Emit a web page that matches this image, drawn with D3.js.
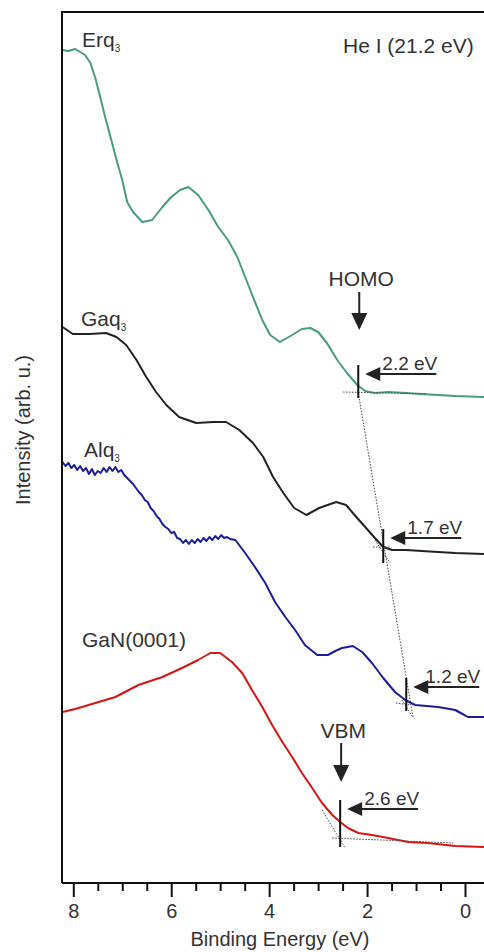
<!DOCTYPE html>
<html>
<head>
<meta charset="utf-8">
<script src="https://cdn.jsdelivr.net/npm/d3@7"></script>
<style>
	body { margin: 0; background: #fff; }
	svg { display: block; }
	text { font-family: "Liberation Sans", Arial, sans-serif; fill: #333; }
</style>
</head>
<body>
<svg id="chart"></svg>
<script>
// binding energy (eV) and intensity (arb. u.)
var erqE = [8.22, 8.10, 7.96, 7.86, 7.76, 7.65, 7.55, 7.45, 7.35, 7.24, 7.10, 7.00, 6.90, 6.78, 6.59, 6.39, 6.18, 6.02, 5.82, 5.65, 5.45, 5.24, 5.04, 4.84, 4.65, 4.49, 4.33, 4.14, 3.98, 3.78, 3.53, 3.33, 3.16, 3.00, 2.82, 2.61, 2.41, 2.20, 2.04, 1.84, 1.57, 1.20, 0.88, 0.55, 0.20, -0.39];
var erqI = [83.4, 83.3, 83.5, 83.2, 82.9, 82.1, 80.6, 78.7, 76.7, 74.7, 72.1, 70.4, 68.2, 67.2, 66.2, 66.4, 67.7, 68.6, 69.4, 69.7, 68.9, 67.4, 65.7, 64.4, 62.7, 60.7, 58.7, 56.4, 54.9, 54.2, 54.9, 55.5, 55.6, 55.2, 54.1, 52.4, 51.1, 49.9, 49.3, 49.1, 49.2, 49.1, 49.0, 48.9, 48.8, 48.7];

var gaqE = [8.22, 8.01, 7.67, 7.33, 7.12, 6.92, 6.71, 6.51, 6.31, 6.10, 5.84, 5.49, 5.14, 4.88, 4.61, 4.33, 4.12, 3.92, 3.71, 3.49, 3.24, 2.98, 2.63, 2.43, 2.22, 2.02, 1.84, 1.67, 1.49, 1.20, 0.88, 0.55, 0.20, -0.39];
var gaqI = [55.7, 55.0, 55.0, 55.1, 54.7, 53.9, 52.4, 50.7, 49.2, 47.9, 46.7, 46.1, 46.2, 46.2, 45.4, 44.1, 42.7, 40.7, 39.1, 37.6, 36.9, 37.6, 38.2, 37.9, 36.7, 35.6, 34.6, 33.7, 33.4, 33.4, 33.3, 33.2, 33.1, 33.0];

var alqE = [8.22, 8.16, 8.10, 8.04, 7.98, 7.92, 7.86, 7.80, 7.74, 7.68, 7.62, 7.56, 7.50, 7.44, 7.38, 7.32, 7.26, 7.20, 7.14, 7.08, 7.02, 6.96, 6.90, 6.84, 6.78, 6.72, 6.66, 6.60, 6.54, 6.48, 6.42, 6.36, 6.30, 6.24, 6.18, 6.12, 6.06, 6.00, 5.94, 5.88, 5.82, 5.76, 5.70, 5.64, 5.58, 5.52, 5.46, 5.40, 5.34, 5.28, 5.22, 5.16, 5.10, 5.04, 4.98, 4.92, 4.86, 4.80, 4.69, 4.49, 4.29, 4.08, 3.88, 3.67, 3.47, 3.27, 3.02, 2.80, 2.65, 2.51, 2.29, 2.10, 1.90, 1.67, 1.43, 1.22, 1.02, 0.55, 0.20, 0.05, -0.06, -0.39];
var alqI = [42.2, 41.8, 42.1, 41.6, 41.9, 41.4, 41.8, 41.3, 41.6, 41.0, 41.5, 40.9, 41.3, 41.1, 41.6, 41.2, 41.7, 41.3, 41.7, 41.2, 41.4, 40.9, 40.6, 40.3, 40.0, 39.6, 39.2, 38.9, 38.4, 38.2, 37.6, 37.3, 36.8, 36.5, 36.0, 35.7, 35.5, 35.1, 35.2, 34.6, 34.5, 34.1, 34.4, 34.0, 34.4, 34.1, 34.5, 34.2, 34.6, 34.3, 34.7, 34.4, 34.8, 34.5, 34.9, 34.6, 34.7, 34.5, 34.4, 33.1, 31.7, 30.1, 28.2, 26.7, 25.4, 23.9, 22.9, 22.9, 23.3, 23.6, 23.8, 23.2, 22.1, 20.6, 19.2, 18.4, 17.9, 17.7, 17.4, 17.0, 16.7, 16.7];

var ganE = [8.22, 7.96, 7.55, 7.14, 6.67, 6.18, 5.78, 5.45, 5.20, 5.00, 4.76, 4.55, 4.35, 4.14, 3.94, 3.73, 3.53, 3.33, 3.12, 2.92, 2.71, 2.55, 2.39, 2.18, 1.90, 1.57, 1.16, 0.76, 0.20, -0.39];
var ganI = [17.2, 17.5, 18.1, 18.7, 19.9, 20.7, 21.6, 22.4, 23.1, 23.1, 22.2, 21.1, 19.4, 17.7, 15.9, 14.2, 12.7, 11.1, 9.6, 8.1, 6.9, 6.2, 5.6, 5.1, 4.9, 4.6, 4.2, 4.1, 3.8, 3.7];

var seriesNames = ["Erq", "Gaq", "Alq", "GaN(0001)"];
var seriesColors = ["#4a9985", "#222222", "#1c1c96", "#d81414"];

// onset (HOMO / VBM) values
var onsetE = [2.18, 1.67, 1.20, 2.55];
var onsetLabels = ["2.2 eV", "1.7 eV", "1.2 eV", "2.6 eV"];
var onsetTop = [51.9, 35.5, 20.6, 8.4];
var onsetBottom = [48.6, 32.1, 17.3, 3.7];

var majorTicks = [8, 6, 4, 2, 0];
var minorTicks = [7.5, 7, 6.5, 5.5, 5, 4.5, 3.5, 3, 2.5, 1.5, 1, 0.5];

var width = 484, height = 952;
var margin = {top: 12, left: 62, bottom: 69};
var innerW = 460, innerH = height - margin.top - margin.bottom;

var svg = d3.select("#chart").attr("width", width).attr("height", height);
var g = svg.append("g").attr("transform", "translate(" + margin.left + "," + margin.top + ")");

var x = d3.scaleLinear().domain([8, 0]).range([11.3, 403]);
var y = d3.scaleLinear().domain([0, 87.2]).range([innerH + 1, 0]);

var line = d3.line()
	.x(function(d) { return x(d[0]); })
	.y(function(d) { return y(d[1]); });

var series = [[erqE, erqI], [gaqE, gaqI], [alqE, alqI], [ganE, ganI]];
series.forEach(function(s, i) {
	g.append("path")
		.datum(d3.zip(s[0], s[1]))
		.attr("fill", "none")
		.attr("stroke", seriesColors[i])
		.attr("stroke-width", 2)
		.attr("stroke-linejoin", "round")
		.attr("d", line);
});

// frame: left and top edges, bottom axis line
g.append("path")
	.attr("d", "M0," + innerH + "V0H" + innerW + "M0," + innerH + "H" + innerW)
	.attr("fill", "none")
	.attr("stroke", "#111")
	.attr("stroke-width", 2);

var axisMajor = g.append("g").attr("transform", "translate(0," + innerH + ")")
	.call(d3.axisBottom(x).tickValues(majorTicks).tickSize(14).tickFormat(d3.format("d")));
var axisMinor = g.append("g").attr("transform", "translate(0," + innerH + ")")
	.call(d3.axisBottom(x).tickValues(minorTicks).tickSize(8).tickFormat(""));
[axisMajor, axisMinor].forEach(function(a) {
	a.select(".domain").remove();
	a.selectAll("line").attr("stroke", "#111").attr("stroke-width", 2);
});
axisMajor.selectAll("text")
	.attr("y", 35).attr("dy", 0)
	.attr("font-size", 20).attr("fill", "#333")
	.style("font-family", "'Liberation Sans', Arial, sans-serif");

svg.append("text")
	.attr("x", 280).attr("y", 946)
	.attr("text-anchor", "middle").attr("font-size", 20)
	.text("Binding Energy (eV)");

svg.append("text")
	.attr("transform", "translate(30,430) rotate(-90)")
	.attr("text-anchor", "middle").attr("font-size", 20)
	.text("Intensity (arb. u.)");

// series labels
function seriesLabel(px, py, name, sub) {
	var t = svg.append("text").attr("x", px).attr("y", py).attr("font-size", 21);
	t.append("tspan").text(name);
	if (sub) t.append("tspan").attr("font-size", 10).attr("dy", 5).text(sub);
}
seriesLabel(82, 47, seriesNames[0], "3");
seriesLabel(81, 326, seriesNames[1], "3");
seriesLabel(84, 457, seriesNames[2], "3");
seriesLabel(82, 647, seriesNames[3]);

svg.append("text")
	.attr("x", 343).attr("y", 53).attr("font-size", 21)
	.text("He I (21.2 eV)");

// dotted construction lines
var dotted = [
	[[2.18, 49.1], [1.06, 16.6]],
	[[2.49, 49.2], [0.78, 49.0]],
	[[1.88, 33.7], [1.53, 33.7]],
	[[1.84, 34.4], [1.53, 32.1]],
	[[1.41, 18.1], [1.12, 17.9]],
	[[1.29, 18.4], [1.08, 16.8]],
	[[2.92, 7.4], [2.45, 3.6]],
	[[2.71, 4.6], [0.24, 4.1]]
];
dotted.forEach(function(d) {
	g.append("line")
		.attr("x1", x(d[0][0])).attr("y1", y(d[0][1]))
		.attr("x2", x(d[1][0])).attr("y2", y(d[1][1]))
		.attr("stroke", "#444").attr("stroke-width", 1)
		.attr("stroke-dasharray", "1.5,1.5");
});

// onset markers with left-pointing arrows
var shaftLen = [71, 71, 66, 71];
onsetE.forEach(function(e, i) {
	var bx = x(e), top = y(onsetTop[i]), bottom = y(onsetBottom[i]);
	g.append("line")
		.attr("x1", bx).attr("x2", bx).attr("y1", top).attr("y2", bottom)
		.attr("stroke", "#111").attr("stroke-width", 2);
	var ay = top + 9, tip = bx + 7, end = tip + shaftLen[i];
	g.append("line")
		.attr("x1", tip + 12).attr("x2", end).attr("y1", ay).attr("y2", ay)
		.attr("stroke", "#222").attr("stroke-width", 2);
	g.append("path")
		.attr("d", "M" + tip + "," + ay + "L" + (tip + 15) + "," + (ay - 7) + "L" + (tip + 15) + "," + (ay + 7) + "Z")
		.attr("fill", "#222");
	g.append("text")
		.attr("x", end + 1).attr("y", ay - 4)
		.attr("text-anchor", "end").attr("font-size", 19)
		.text(onsetLabels[i]);
});

// HOMO and VBM pointers
function downArrow(e, iTop, iTip, label, iText) {
	var ax = x(e) + 1, t0 = y(iTop), t1 = y(iTip);
	g.append("line")
		.attr("x1", ax).attr("x2", ax).attr("y1", t0).attr("y2", t1 - 14)
		.attr("stroke", "#222").attr("stroke-width", 2);
	g.append("path")
		.attr("d", "M" + ax + "," + t1 + "L" + (ax - 8) + "," + (t1 - 17) + "L" + (ax + 8) + "," + (t1 - 17) + "Z")
		.attr("fill", "#222");
	g.append("text")
		.attr("x", ax + 2).attr("y", y(iText))
		.attr("text-anchor", "middle").attr("font-size", 21)
		.text(label);
}
downArrow(onsetE[0], 59.2, 55.4, "HOMO", 59.8);
downArrow(onsetE[3], 14.1, 10.2, "VBM", 14.6);
</script>
</body>
</html>
